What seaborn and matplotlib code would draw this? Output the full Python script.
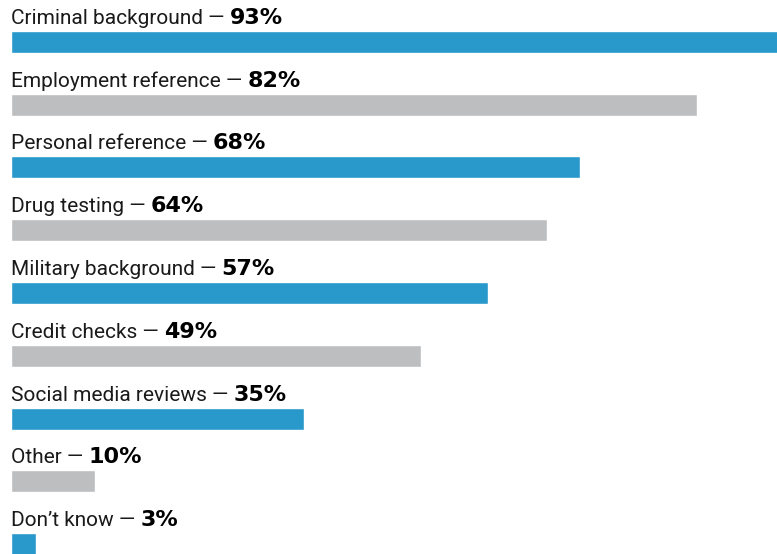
import seaborn as sns
import matplotlib.pyplot as plt
import pandas as pd

categories = ["Criminal background", "Employment reference", "Personal reference",
              "Drug testing", "Military background", "Credit checks",
              "Social media reviews", "Other", "Don\u2019t know"]
values = [93, 82, 68, 64, 57, 49, 35, 10, 3]
colors = ["#2899CA", "#BDBEC0"] * 5

df = pd.DataFrame({"type": categories, "pct": values})

sns.set_style("white")
plt.rcParams["font.family"] = ["Roboto", "DejaVu Sans"]

fig = plt.figure(figsize=(7.77, 5.54), dpi=100)
ax = fig.add_axes([11 / 777, 0, 1 - 11 / 777, 1])
sns.barplot(data=df, x="pct", y="type", hue="type", palette=colors[:len(df)],
            orient="h", width=22 / 62.75, legend=False, ax=ax, saturation=1)

ax.set_xlim(0, 91.5)
ax.set_ylim(8.159, -0.669)
ax.axis("off")

fig.canvas.draw()
r = fig.canvas.get_renderer()
for i, (c, v) in enumerate(zip(categories, values)):
    t = ax.text(0, i - 0.287, c + " \u2014 ", fontsize=15, va="baseline",
                ha="left", color="#1a1a1a")
    bb = t.get_window_extent(renderer=r)
    x1 = ax.transData.inverted().transform((bb.x1, bb.y0))[0]
    ax.text(x1, i - 0.287, f"{v}%", fontsize=16, va="baseline", ha="left",
            color="#000000", fontweight="bold", family="DejaVu Sans")

fig.savefig("out.png", dpi=100)
